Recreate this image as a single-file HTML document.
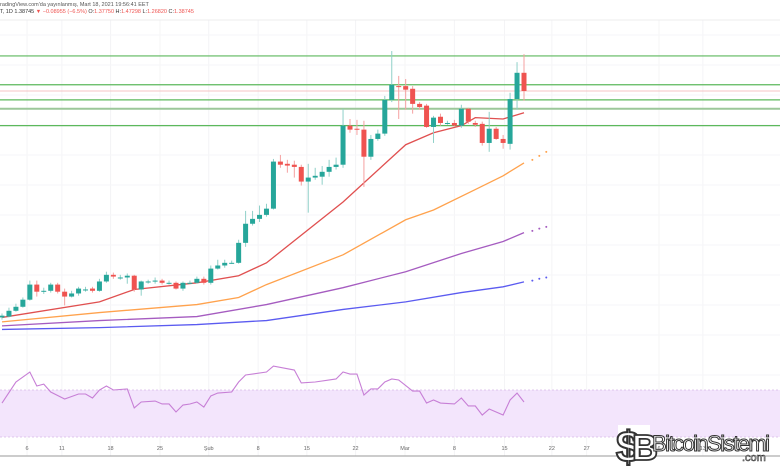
<!DOCTYPE html>
<html><head><meta charset="utf-8"><style>
html,body{margin:0;padding:0;background:#fff;}
#wrap{position:relative;width:780px;height:470px;overflow:hidden;font-family:"Liberation Sans",sans-serif;}
svg{position:absolute;left:0;top:0;}
</style></head><body>
<div id="wrap">
<svg id="chart" width="780" height="470"></svg>
</div>
<script>
const opens = [0.877,0.879,0.892,0.901,0.917,0.951,0.937,0.937,0.951,0.935,0.924,0.931,0.940,0.942,0.937,0.958,0.973,0.967,0.967,0.971,0.940,0.958,0.958,0.960,0.955,0.955,0.942,0.955,0.955,0.964,0.955,0.987,0.994,1.000,1.000,1.045,1.088,1.099,1.108,1.122,1.228,1.223,1.221,1.216,1.183,1.192,1.194,1.205,1.216,1.221,1.309,1.302,1.300,1.239,1.279,1.291,1.367,1.398,1.398,1.392,1.358,1.354,1.306,1.329,1.315,1.315,1.309,1.347,1.315,1.313,1.270,1.302,1.279,1.268,1.369,1.428];
const closes = [0.881,0.892,0.901,0.917,0.951,0.935,0.937,0.951,0.935,0.924,0.931,0.942,0.940,0.937,0.958,0.973,0.969,0.967,0.971,0.940,0.958,0.958,0.960,0.955,0.955,0.942,0.955,0.955,0.964,0.955,0.987,0.994,1.000,1.000,1.045,1.088,1.099,1.108,1.122,1.228,1.221,1.219,1.216,1.183,1.192,1.196,1.205,1.216,1.221,1.309,1.300,1.300,1.239,1.279,1.291,1.367,1.401,1.396,1.390,1.358,1.351,1.306,1.327,1.315,1.315,1.309,1.347,1.318,1.311,1.270,1.302,1.279,1.270,1.369,1.428,1.387];
const highs = [0.886,0.899,0.908,0.922,0.960,0.960,0.944,0.955,0.955,0.942,0.937,0.946,0.946,0.946,0.964,0.980,0.978,0.973,0.976,0.973,0.960,0.962,0.967,0.964,0.960,0.958,0.958,0.960,0.969,0.969,0.994,1.007,1.007,1.005,1.052,1.117,1.117,1.129,1.133,1.234,1.243,1.232,1.230,1.221,1.223,1.214,1.218,1.232,1.237,1.347,1.324,1.322,1.320,1.288,1.300,1.376,1.477,1.421,1.414,1.398,1.362,1.358,1.331,1.336,1.320,1.322,1.356,1.349,1.320,1.318,1.340,1.306,1.288,1.383,1.452,1.470];
const lows = [0.872,0.877,0.890,0.899,0.915,0.924,0.930,0.933,0.931,0.904,0.922,0.926,0.935,0.933,0.935,0.955,0.964,0.962,0.953,0.935,0.926,0.953,0.953,0.951,0.951,0.940,0.937,0.953,0.953,0.951,0.951,0.985,0.989,0.998,0.998,1.036,1.084,1.092,1.104,1.120,1.214,1.203,1.192,1.174,1.113,1.187,1.176,1.194,1.210,1.214,1.293,1.288,1.171,1.232,1.275,1.286,1.362,1.324,1.345,1.336,1.345,1.304,1.270,1.309,1.311,1.306,1.304,1.313,1.306,1.264,1.250,1.277,1.257,1.255,1.345,1.365];

const maIdx = [0,14,19,28,34,38,49,52,58,62,66,68,72,75];
const ma20 = [0.877,0.912,0.940,0.955,0.971,1.000,1.137,1.180,1.266,1.293,1.309,1.327,1.324,1.338];
const ma50Idx = [0,14,28,34,38,49,58,62,68,72,75];
const ma50 = [0.867,0.888,0.906,0.922,0.951,1.018,1.097,1.119,1.165,1.196,1.225];
const ma50Proj = [1.232,1.241,1.250];
const ma100Idx = [0,14,28,38,49,58,66,72,75];
const ma100 = [0.858,0.870,0.879,0.906,0.944,0.980,1.021,1.048,1.068];
const ma100Proj = [1.072,1.077,1.081];
const ma200 = [0.850,0.854,0.861,0.870,0.895,0.912,0.933,0.946,0.957];
const ma200Proj = [0.960,0.964,0.967];

const levels = [1.466,1.401,1.367,1.347,1.309];
const lastPrice = 1.387;

const rsiIdx = [0,2,4,5,6,7,9,11,12,13,14,15,16,18,19,20,22,23,24,25,26,27,28,29,30,31,33,34,35,38,39,42,43,45,48,49,50,51,52,53,54,55,56,57,59,60,61,62,63,65,66,67,68,69,70,72,73,74,75];
const rsiVals = [58.9,76.8,85.3,73.4,75,68.3,62.3,66.6,66.6,63.2,70,73.4,70,70.9,54.7,59.8,60.6,58.1,58.1,51.3,57.2,58.1,59.8,55.5,64.9,67.4,68.3,76.8,82.8,85.3,90.4,87,76,76.8,79.4,85.3,83.6,83.6,65.7,70.9,70.9,76.8,79.4,78.5,69.1,69.1,58.9,61.5,58.9,58.1,63.2,56.4,56.4,48.7,53.8,48.7,61.5,67.4,59.8];

const dateLabels = ["6","11","18","25","Şub","8","15","22","Mar","8","15","22","27","6","13"];
const dateIdx = [3.6,8.6,15.6,22.7,29.7,36.8,43.8,50.8,57.9,65,72.2,79,84,94.4,100.7];

const NS="http://www.w3.org/2000/svg";
const svg=document.getElementById('chart');
function el(t,a,p){const e=document.createElementNS(NS,t);for(const k in a)e.setAttribute(k,a[k]);(p||svg).appendChild(e);return e;}
const xS=i=>2+i*6.96;
const yS=p=>91-(p-1.387)*444;
const rY=v=>390-(v-70)*1.175;

const grid=el('g',{});


dateIdx.forEach(i=>el('line',{x1:xS(i),x2:xS(i),y1:20,y2:456,stroke:'#f4f4f6','stroke-width':1},grid));
[35,65,95,125,155,185,215,245,275,305,335,375,405,425].forEach(y=>el('line',{x1:0,x2:780,y1:y,y2:y,stroke:'#f6f6f8','stroke-width':1},grid));
el('line',{x1:0,x2:780,y1:20,y2:20,stroke:'#ececee'});

const h1=el('text',{x:0,y:6,'font-size':5.5,fill:'#555'});
h1.textContent="radingView.com'da yayınlanmış, Mart 18, 2021 19:56:41 EET";


const h2=el('text',{x:0,y:13,'font-size':5.5,fill:'#333'});
h2.innerHTML='T, 1D 1.38745 <tspan fill="#ef5350">▼ −0.08955 (−6.5%) </tspan>O:<tspan fill="#ef5350">1.37750</tspan> H:<tspan fill="#ef5350">1.47298</tspan> L:<tspan fill="#ef5350">1.26820</tspan> C:<tspan fill="#ef5350">1.38745</tspan>';



levels.forEach((p,k)=>{
  const l=el('line',{x1:0,x2:780,y1:yS(p),y2:yS(p),stroke:k===3?'#9cc79a':'#5cb85c','stroke-width':k===3?2:1.2});
  
  
});
const lp=el('line',{x1:0,x2:780,y1:yS(lastPrice),y2:yS(lastPrice),stroke:'#f4c4c4','stroke-width':1});



function line(idx,vals,color,name){
  const pl=el('polyline',{points:idx.map((i,k)=>xS(i)+','+yS(vals[k])).join(' '),fill:'none',stroke:color,'stroke-width':1.3});
  
  
}
function proj(vals,color,name){
  vals.forEach((v,k)=>{const c=el('circle',{cx:xS(76.2+k),cy:yS(v),r:1,fill:color});
  
  });
}
line(ma100Idx,ma200,'#5b5bf0','ma200-line');proj(ma200Proj,'#5b5bf0','ma200-projection');
line(ma100Idx,ma100,'#a55cc0','ma100-line');proj(ma100Proj,'#a55cc0','ma100-projection');
line(ma50Idx,ma50,'#ffa24d','ma50-line');proj(ma50Proj,'#ffa24d','ma50-projection');
line(maIdx,ma20,'#e05050','ma20-line');

opens.forEach((o,i)=>{
  const c=closes[i],up=c>=o,col=up?'#26a69a':'#ef5350',wc=up?'#8fd0c8':'#f5a0a0';
  const g=el('g',{});
  
  
  el('line',{x1:xS(i),x2:xS(i),y1:yS(highs[i]),y2:yS(lows[i]),stroke:wc,'stroke-width':1},g);
  const t=Math.min(yS(o),yS(c)),h=Math.max(1,Math.abs(yS(o)-yS(c)));
  el('rect',{x:xS(i)-2.5,y:t,width:5,height:h,fill:col},g);
});

const band=el('rect',{x:0,y:rY(70),width:780,height:rY(30)-rY(70),fill:'#f3e5fc'});


[70,30].forEach(v=>el('line',{x1:0,x2:780,y1:rY(v),y2:rY(v),stroke:'#d8b8e8','stroke-dasharray':'2,2','stroke-width':0.8}));
const rl=el('polyline',{points:rsiIdx.map((i,k)=>xS(i)+','+rY(rsiVals[k])).join(' '),fill:'none',stroke:'#c77fd6','stroke-width':1.1});



el('line',{x1:0,x2:780,y1:456,y2:456,stroke:'#9a9a9a','stroke-width':1});
dateLabels.forEach((d,k)=>{const t=el('text',{x:xS(dateIdx[k]),y:450,'font-size':5.5,fill:'#666','text-anchor':'middle'});t.textContent=d;

});

const lg=el('g',{});


el('rect',{x:618,y:425,width:32,height:38,fill:'#fff'},lg);
el('text',{x:616,y:462,'font-size':44,'font-weight':'bold',fill:'#fff',stroke:'#333','stroke-width':2,'font-family':'Liberation Sans'},lg).textContent='$';
el('text',{x:632,y:460,'font-size':36,'font-weight':'bold',fill:'#fff',stroke:'#333','stroke-width':1.8,'font-family':'Liberation Sans'},lg).textContent='B';
el('text',{x:652,y:451,'font-size':22,fill:'#fff',stroke:'#333','stroke-width':1,'textLength':118,'font-family':'Liberation Sans'},lg).textContent='BitcoinSistemi';
el('text',{x:742,y:461,'font-size':11,fill:'#fff',stroke:'#333','stroke-width':0.6,'font-family':'Liberation Sans'},lg).textContent='.com';
</script>
</body></html>
